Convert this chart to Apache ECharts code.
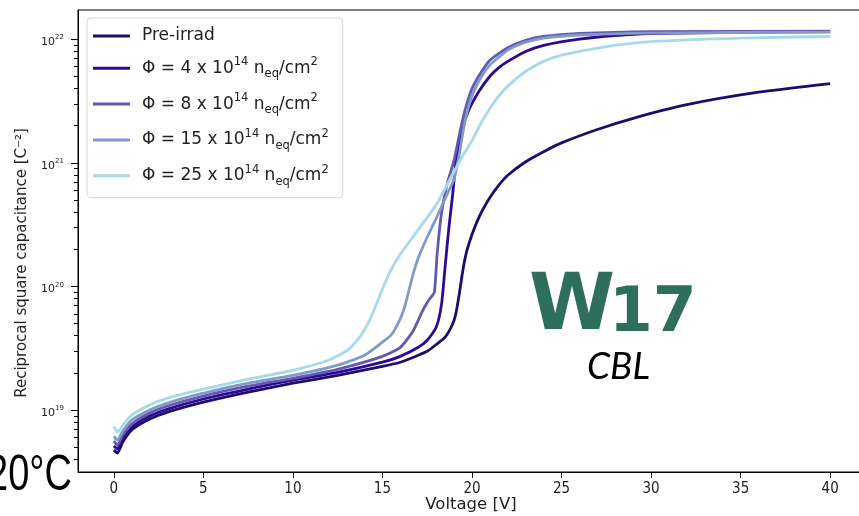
<!DOCTYPE html>
<html>
<head>
<meta charset="utf-8">
<script src="https://cdn.jsdelivr.net/npm/echarts@6/dist/echarts.min.js"></script>
<style>
html,body{margin:0;padding:0;background:#fff;}
#chart{width:859px;height:516px;}
</style>
</head>
<body>
<div id="chart"></div>
<script>
// ---- data ----
const seriesNames = ['Pre-irrad', 'Φ = 4 x 10^14', 'Φ = 8 x 10^14', 'Φ = 15 x 10^14', 'Φ = 25 x 10^14'];
const fluenceLabels = ['4', '8', '15', '25'];
const xTicks = [0, 5, 10, 15, 20, 25, 30, 35, 40];
const yTicks = [1e19, 1e20, 1e21, 1e22];
const yMinorTicks = [4e18, 5e18, 6e18, 7e18, 8e18, 9e18,
  2e19, 3e19, 4e19, 5e19, 6e19, 7e19, 8e19, 9e19,
  2e20, 3e20, 4e20, 5e20, 6e20, 7e20, 8e20, 9e20,
  2e21, 3e21, 4e21, 5e21, 6e21, 7e21, 8e21, 9e21];

const preV = [0, 0.2, 0.5, 1, 2, 3, 5, 7.5, 10, 12.5, 15, 16, 17, 17.5, 18, 18.5, 18.9, 19.1, 19.3, 19.5, 19.7, 20, 20.3, 20.6, 21, 21.5, 22, 23, 24, 25, 27, 29, 32, 36, 40];
const preC = [4.75e18, 4.50e18, 5.52e18, 6.90e18, 8.46e18, 9.64e18, 1.16e19, 1.40e19, 1.65e19, 1.91e19, 2.26e19, 2.44e19, 2.78e19, 2.99e19, 3.39e19, 3.89e19, 4.90e19, 6.03e19, 8.91e19, 1.38e20, 1.91e20, 2.63e20, 3.39e20, 4.17e20, 5.25e20, 6.61e20, 7.94e20, 1.02e21, 1.23e21, 1.45e21, 1.86e21, 2.29e21, 2.95e21, 3.72e21, 4.37e21];

const phi4V = [0, 0.2, 0.5, 1, 2, 3, 5, 7.5, 10, 12.5, 15, 16, 17, 17.5, 18, 18.3, 18.5, 18.7, 18.9, 19.1, 19.4, 19.8, 20.4, 21, 21.5, 22, 23, 24, 26, 28, 30, 35, 40];
const phi4C = [5.13e18, 4.85e18, 5.94e18, 7.29e18, 8.95e18, 1.02e19, 1.23e19, 1.48e19, 1.75e19, 2.02e19, 2.44e19, 2.72e19, 3.22e19, 3.67e19, 4.67e19, 7.20e19, 1.45e20, 2.90e20, 5.22e20, 1.0e21, 1.78e21, 2.63e21, 3.80e21, 5.01e21, 5.89e21, 6.61e21, 7.94e21, 8.91e21, 1.0e22, 1.07e22, 1.11e22, 1.135e22, 1.15e22];

const phi8V = [0, 0.2, 0.5, 1, 2, 3, 5, 7.5, 10, 12.5, 15, 16, 16.7, 17.25, 17.5, 17.7, 17.9, 18.05, 18.3, 18.6, 19.0, 19.3, 19.6, 20.0, 20.5, 21, 22, 23, 24, 26, 30, 40];
const phi8C = [5.62e18, 5.22e18, 6.29e18, 7.71e18, 9.46e18, 1.08e19, 1.30e19, 1.56e19, 1.81e19, 2.14e19, 2.72e19, 3.22e19, 4.34e19, 6.40e19, 7.43e19, 8.15e19, 8.95e19, 1.81e20, 3.95e20, 6.65e20, 1.05e21, 1.70e21, 2.63e21, 3.98e21, 5.37e21, 6.76e21, 8.51e21, 9.77e21, 1.05e22, 1.11e22, 1.15e22, 1.16e22];

const phi15V = [0, 0.2, 0.5, 1, 2, 3, 5, 7.5, 10, 12.5, 14, 15, 15.5, 16, 16.25, 16.5, 16.75, 17, 17.5, 18, 18.5, 19, 19.3, 19.6, 20, 20.5, 21, 22, 23, 24, 26, 30, 40];
const phi15C = [6.17e18, 5.73e18, 6.78e18, 8.30e18, 1.0e19, 1.14e19, 1.37e19, 1.65e19, 1.91e19, 2.31e19, 2.78e19, 3.55e19, 4.07e19, 5.50e19, 6.92e19, 9.55e19, 1.32e20, 1.70e20, 2.51e20, 3.55e20, 5.13e20, 7.41e20, 1.20e21, 2.14e21, 3.47e21, 4.90e21, 6.17e21, 8.15e21, 9.46e21, 1.02e22, 1.08e22, 1.12e22, 1.14e22];

const phi25V = [0, 0.2, 0.5, 1, 2, 3, 5, 7.5, 10, 12, 13, 13.5, 14, 14.5, 15, 15.5, 16, 17, 18, 19, 19.5, 20, 20.5, 21, 21.5, 22, 23, 24, 25, 27.5, 30, 35, 40];
const phi25C = [7.4e18, 6.65e18, 7.57e18, 9.12e18, 1.10e19, 1.25e19, 1.48e19, 1.78e19, 2.10e19, 2.53e19, 3.02e19, 3.55e19, 4.47e19, 6.31e19, 9.55e19, 1.38e20, 1.82e20, 2.88e20, 4.57e20, 8.51e20, 1.15e21, 1.51e21, 2.09e21, 2.75e21, 3.47e21, 4.17e21, 5.50e21, 6.61e21, 7.41e21, 8.71e21, 9.55e21, 1.02e22, 1.05e22];

const colors = ['#1d0c6e', '#2c0a92', '#6358b2', '#8399c8', '#a8d9e6'];

// ---- build ----
const voltages = [preV, phi4V, phi8V, phi15V, phi25V];
const values = [preC, phi4C, phi8C, phi15C, phi25C];
function pairs(xs, ys) { return xs.map((x, i) => [x, ys[i]]); }

const legendText = {};
legendText[seriesNames[0]] = '{t|Pre-irrad}{sup| }';
fluenceLabels.forEach((f, i) => {
  legendText[seriesNames[i + 1]] = '{t|Φ = ' + f + ' x 10}{sup|14}{t| n}{sub|eq}{t|/cm}{sup|2}';
});

const mainFont = "'DejaVu Sans', sans-serif";
const narrowFont = "'Liberation Sans Narrow', 'DejaVu Sans Condensed', sans-serif";

const chart = echarts.init(document.getElementById('chart'), null, {renderer: 'canvas'});
chart.setOption({
  backgroundColor: '#fff',
  animation: false,
  grid: {left: 78, right: -7, top: 10, bottom: 44, show: true, borderColor: '#000', borderWidth: 1,
         backgroundColor: 'transparent', containLabel: false, outerBoundsMode: 'none'},
  legend: {
    orient: 'vertical', left: 87, top: 18,
    data: seriesNames,
    icon: 'rect',
    itemWidth: 37, itemHeight: 3, itemGap: 11.8,
    padding: [6, 14, 10, 6],
    backgroundColor: '#fff', borderColor: '#d4d4d4', borderWidth: 1, borderRadius: 4,
    formatter: name => legendText[name],
    textStyle: {
      fontFamily: mainFont, fontSize: 17, color: '#222', padding: [0, 0, 0, 7],
      rich: {
        t: {fontFamily: mainFont, fontSize: 17, color: '#222', lineHeight: 24},
        sup: {fontFamily: mainFont, fontSize: 11.5, color: '#222', lineHeight: 11, verticalAlign: 'top'},
        sub: {fontFamily: mainFont, fontSize: 11.5, color: '#222', lineHeight: 11, verticalAlign: 'bottom'}
      }
    }
  },
  xAxis: {
    type: 'value', min: -2, max: 42,
    axisLine: {show: true, onZero: false, lineStyle: {color: '#000', width: 1}},
    axisTick: {show: true, length: 6, lineStyle: {color: '#000'}, customValues: xTicks},
    axisLabel: {fontFamily: narrowFont, fontSize: 15, color: '#222', margin: 10, customValues: xTicks},
    splitLine: {show: false}
  },
  yAxis: [{
    type: 'log', logBase: 10, min: 3.16e18, max: 1.72e22, position: 'left',
    axisLine: {show: true, onZero: false, lineStyle: {color: '#000', width: 1}},
    axisTick: {show: true, length: 7, lineStyle: {color: '#000'}, customValues: yTicks},
    axisLabel: {
      margin: 14, customValues: yTicks, padding: [6, 0, 0, 0],
      formatter: v => '{b|10}{e|' + Math.round(Math.log10(v)) + '}',
      rich: {
        b: {fontFamily: mainFont, fontSize: 11, color: '#222', lineHeight: 16},
        e: {fontFamily: mainFont, fontSize: 7, color: '#222', lineHeight: 7, verticalAlign: 'top'}
      }
    },
    splitLine: {show: false}
  }, {
    type: 'log', logBase: 10, min: 3.16e18, max: 1.72e22, position: 'left', offset: 0,
    axisLine: {show: false, onZero: false},
    axisTick: {show: true, length: 4, lineStyle: {color: '#000'}, customValues: yMinorTicks},
    axisLabel: {show: false},
    splitLine: {show: false}
  }],
  series: seriesNames.map((n, i) => ({
    name: n, type: 'line', yAxisIndex: 0,
    data: pairs(voltages[i], values[i]),
    symbol: 'none', showSymbol: false, smooth: 0.2,
    lineStyle: {color: colors[i], width: 2.8},
    itemStyle: {color: colors[i]},
    z: 2 + i
  })),
  graphic: [
    {type: 'text', x: 471, y: 505, z: 100,
     style: {text: 'Voltage [V]', fontSize: 16.5, fontFamily: mainFont, fill: '#222', textAlign: 'center', textVerticalAlign: 'middle'}},
    {type: 'text', x: 22, y: 263, rotation: Math.PI / 2, z: 100,
     style: {text: 'Reciprocal square capacitance [C⁻²]', fontSize: 15, fontFamily: mainFont, fill: '#222', textAlign: 'center', textVerticalAlign: 'middle'}},
    {type: 'text', x: 72, y: 476, scaleX: 0.76, z: 100,
     style: {text: '20°C', fontSize: 50, fontFamily: "'Liberation Sans', Arial, sans-serif", fill: '#000', textAlign: 'right', textVerticalAlign: 'middle'}},
    {type: 'text', x: 529, y: 309, z: 100,
     style: {text: 'W', fontSize: 78, fontWeight: 'bold', fontFamily: mainFont, fill: '#2d6e5d', textAlign: 'left', textVerticalAlign: 'middle'}},
    {type: 'text', x: 609, y: 315, z: 100,
     style: {text: '17', fontSize: 63, fontWeight: 'bold', fontFamily: mainFont, fill: '#2d6e5d', textAlign: 'left', textVerticalAlign: 'middle'}},
    {type: 'text', x: 587, y: 367, z: 100,
     style: {text: 'CBL', fontSize: 37, fontStyle: 'italic', fontFamily: "Lato, 'Open Sans', sans-serif", fill: '#000', textAlign: 'left', textVerticalAlign: 'middle'}}
  ]
});
</script>
</body>
</html>
